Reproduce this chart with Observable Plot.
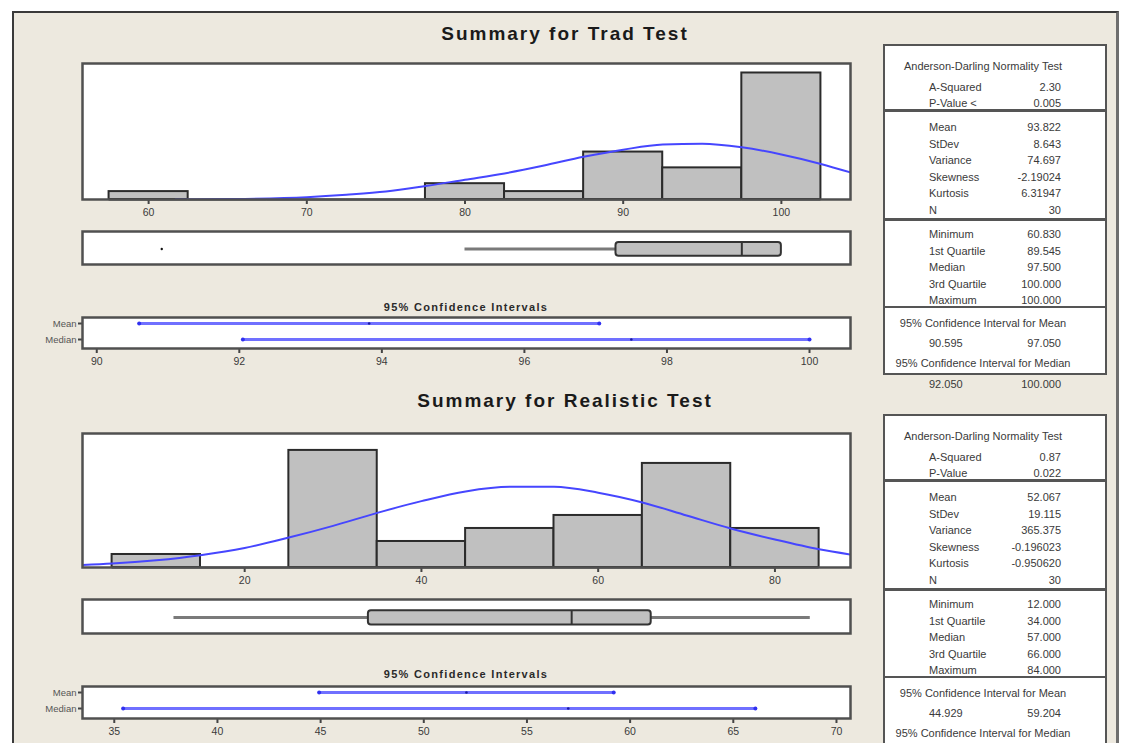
<!DOCTYPE html>
<html>
<head>
<meta charset="utf-8">
<script src="https://cdn.jsdelivr.net/npm/d3@7"></script>
<script src="https://cdn.jsdelivr.net/npm/@observablehq/plot@0.6"></script>
<style>
  html, body { margin: 0; padding: 0; background: #ffffff; }
  #root { position: relative; width: 1122px; height: 743px; overflow: hidden; background: #ffffff;
          font-family: "Liberation Sans", Arial, sans-serif; }
  #bg { position: absolute; left: 12px; top: 11px; width: 1107px; height: 800px; box-sizing: border-box;
        background: #EDE9DF; border-left: 2px solid #3a3a3a; border-top: 2px solid #3a3a3a; border-right: 3px solid #6e6e6e; }
  .t { position: absolute; white-space: nowrap; line-height: 1; }
  .title { font-weight: bold; font-size: 19px; letter-spacing: 2px; color: #1a1a1a; }
  .cil { font-weight: bold; font-size: 11px; letter-spacing: 1.3px; color: #2a2a2a; }
  .st { font-size: 11px; color: #3a3a3a; }
  .panel { position: absolute; box-sizing: border-box; background: #ffffff; border: 2.5px solid #555555; }
  .div { position: absolute; height: 2.5px; background: #555555; }
  svg { overflow: visible; }
</style>
</head>
<body>
<div id="root"><div id="bg"></div></div>
<script>
// ---------------- DATA ----------------
// Trad Test
const tradBinEdges = [57.5, 62.5, 67.5, 72.5, 77.5, 82.5, 87.5, 92.5, 97.5, 102.5];
const tradCounts   = [1, 0, 0, 0, 2, 1, 6, 4, 16];
const tradCurveX   = [61.7, 65, 70, 72.5, 75, 77.5, 80, 82.5, 85, 87.5, 90, 92.5, 95, 97.5, 100, 102.5, 104.4];
const tradCurveY   = [0.0, 0.05, 0.3, 0.6, 1.0, 1.7, 2.5, 3.3, 4.3, 5.4, 6.3, 6.95, 7.05, 6.6, 5.7, 4.5, 3.4];
const tradHistTicks = [60, 70, 80, 90, 100];
const tradBoxQ     = [89.545, 97.5, 100.0];      // Q1, median, Q3
const tradWhiskers = [80.0, 100.0];              // low, high whisker ends
const tradOutliers = [60.83];
const ciStats      = ["Mean", "Median"];
const tradCiLo     = [90.595, 92.05];
const tradCiHi     = [97.05, 100.0];
const tradCiEst    = [93.822, 97.5];
const tradCiTicks  = [90, 92, 94, 96, 98, 100];

// Realistic Test
const realBinEdges = [5, 15, 25, 35, 45, 55, 65, 75, 85];
const realCounts   = [1, 0, 9, 2, 3, 4, 8, 3];
const realCurveX   = [1.65, 5, 10, 15, 20, 25, 30, 35, 40, 45, 50, 55, 60, 65, 70, 75, 80, 85, 88.55];
const realCurveY   = [0.19, 0.3, 0.56, 0.95, 1.5, 2.3, 3.2, 4.2, 5.1, 5.85, 6.2, 6.2, 5.75, 5.0, 4.0, 3.0, 2.15, 1.4, 1.0];
const realHistTicks = [20, 40, 60, 80];
const realBoxQ     = [34.0, 57.0, 66.0];
const realWhiskers = [12.0, 84.0];
const realOutliers = [];
const realCiLo     = [44.929, 35.43];
const realCiHi     = [59.204, 66.07];
const realCiEst    = [52.067, 57.0];
const realCiTicks  = [35, 40, 45, 50, 55, 60, 65, 70];

// Summary table texts
const adTitle     = "Anderson-Darling Normality Test";
const tradAdLabels = ["A-Squared", "P-Value <"];
const realAdLabels = ["A-Squared", "P-Value"];
const descLabels  = ["Mean", "StDev", "Variance", "Skewness", "Kurtosis", "N"];
const quartLabels = ["Minimum", "1st Quartile", "Median", "3rd Quartile", "Maximum"];
const ciMeanTitle = "95% Confidence Interval for Mean";
const ciMedTitle  = "95% Confidence Interval for Median";
const tradAd      = ["2.30", "0.005"];
const tradDesc    = ["93.822", "8.643", "74.697", "-2.19024", "6.31947", "30"];
const tradQuart   = ["60.830", "89.545", "97.500", "100.000", "100.000"];
const tradCiMeanTxt = ["90.595", "97.050"];
const tradCiMedTxt  = ["92.050", "100.000"];
const realAd      = ["0.87", "0.022"];
const realDesc    = ["52.067", "19.115", "365.375", "-0.196023", "-0.950620", "30"];
const realQuart   = ["12.000", "34.000", "57.000", "66.000", "84.000"];
const realCiMeanTxt = ["44.929", "59.204"];

// ---------------- DRAWING ----------------
const FONT = '"Liberation Sans", Arial, sans-serif';
const root = document.getElementById("root");
const PANEL_L = 82, PANEL_R = 850, PW = PANEL_R - PANEL_L;

function put(node, left, top) {
  node.style.position = "absolute";
  node.style.left = left + "px";
  node.style.top = top + "px";
  root.appendChild(node);
  return node;
}
function text(str, x, cy, cls, anchor = "start") {
  const d = document.createElement("div");
  d.className = "t " + cls;
  d.textContent = str;
  const tx = anchor === "middle" ? "-50%" : anchor === "end" ? "-100%" : "0";
  d.style.left = x + "px";
  d.style.top = cy + "px";
  d.style.transform = `translate(${tx}, -50%)`;
  root.appendChild(d);
  return d;
}
const baseStyle = {background: "transparent", fontFamily: FONT, fontSize: "10.5px", color: "#3a3a3a", overflow: "visible"};

function histChart({edges, counts, curveX, curveY, xDomain, yMax, ticks, top, h}) {
  const ml = 10, mr = 10, mt = 4, mb = 26;
  const bins = counts.map((c, i) => ({x1: edges[i], x2: edges[i + 1], count: c}));
  const curve = curveX.map((x, i) => ({x, y: curveY[i]}));
  const chart = Plot.plot({
    width: PW + ml + mr, height: h + mt + mb,
    marginLeft: ml, marginRight: mr, marginTop: mt, marginBottom: mb,
    style: baseStyle,
    x: {domain: xDomain, label: null},
    y: {domain: [0, yMax], axis: null, label: null},
    marks: [
      Plot.frame({fill: "white", stroke: "none"}),
      Plot.rect(bins, {x1: "x1", x2: "x2", y1: 0, y2: "count", fill: "#C0C0C0", stroke: "#2b2b2b", strokeWidth: 2}),
      Plot.ruleY(bins, {x1: "x1", x2: "x2", y: 0, stroke: "#2b2b2b", strokeWidth: 2}),
      Plot.line(curve, {x: "x", y: "y", stroke: "#4646ff", strokeWidth: 2, curve: "monotone-x", clip: true}),
      Plot.axisX({ticks, tickSize: 5, tickPadding: 4, strokeWidth: 2, stroke: "#444", fill: "#3a3a3a", fontSize: 10.5, label: null}),
      Plot.frame({stroke: "#505050", strokeWidth: 2.5})
    ]
  });
  put(chart, PANEL_L - ml, top - mt);
}

function boxChart({q, whiskers, outliers, xDomain, top, h}) {
  const ml = 10, mr = 10, mt = 3, mb = 3;
  const box = [{q1: q[0], med: q[1], q3: q[2]}];
  const segs = [{x1: whiskers[0], x2: q[0]}, {x1: q[2], x2: whiskers[1]}].filter(s => s.x2 > s.x1);
  const chart = Plot.plot({
    width: PW + ml + mr, height: h + mt + mb,
    marginLeft: ml, marginRight: mr, marginTop: mt, marginBottom: mb,
    style: baseStyle,
    x: {domain: xDomain, axis: null, label: null},
    y: {domain: [0, 1], axis: null},
    marks: [
      Plot.frame({fill: "white", stroke: "none"}),
      Plot.ruleY(segs, {x1: "x1", x2: "x2", y: 0.47, stroke: "#7a7a7a", strokeWidth: 3}),
      Plot.rect(box, {x1: "q1", x2: "q3", y1: 0.25, y2: 0.67, fill: "#C0C0C0", stroke: "#333", strokeWidth: 2, rx: 3}),
      Plot.ruleX(box, {x: "med", y1: 0.25, y2: 0.67, stroke: "#333", strokeWidth: 2}),
      Plot.dot(outliers, {x: d => d, y: 0.47, r: 1.2, fill: "#111", stroke: "none"}),
      Plot.frame({stroke: "#505050", strokeWidth: 2.5})
    ]
  });
  put(chart, PANEL_L - ml, top - mt);
}

function ciChart({lo, hi, est, xDomain, ticks, top, h}) {
  const ml = 64, mr = 10, mt = 4, mb = 26;
  const rows = ciStats.map((s, i) => ({stat: s, lo: lo[i], hi: hi[i], est: est[i]}));
  const chart = Plot.plot({
    width: PW + ml + mr, height: h + mt + mb,
    marginLeft: ml, marginRight: mr, marginTop: mt, marginBottom: mb,
    style: baseStyle,
    x: {domain: xDomain, label: null},
    y: {type: "point", domain: ciStats, range: [mt + 6, mt + 22], padding: 0, label: null},
    marks: [
      Plot.frame({fill: "white", stroke: "none"}),
      Plot.ruleY(rows, {y: "stat", x1: "lo", x2: "hi", stroke: "#7070ff", strokeWidth: 3}),
      Plot.dot(rows, {x: "lo", y: "stat", r: 2, fill: "#3030f0", stroke: "none"}),
      Plot.dot(rows, {x: "hi", y: "stat", r: 2, fill: "#3030f0", stroke: "none"}),
      Plot.dot(rows, {x: "est", y: "stat", r: 1.3, fill: "#1a1aa0", stroke: "none"}),
      Plot.axisY({tickSize: 4, tickPadding: 2, strokeWidth: 2, stroke: "#444", fill: "#555", fontSize: 9.5, label: null}),
      Plot.axisX({ticks, tickSize: 5, tickPadding: 4, strokeWidth: 2, stroke: "#444", fill: "#3a3a3a", fontSize: 10.5, label: null}),
      Plot.frame({stroke: "#505050", strokeWidth: 2.5})
    ]
  });
  put(chart, PANEL_L - ml, top - mt);
}

function statsPanel({top, adLabels, ad, desc, quart, ciMean, ciMed}) {
  const L = 883, R = 1107, LX = 929, VX = 1061, CX = 983;
  const p = document.createElement("div");
  p.className = "panel";
  p.style.left = L + "px"; p.style.top = top + "px";
  p.style.width = (R - L) + "px"; p.style.height = "331px";
  root.appendChild(p);
  [66.5, 175.5, 263].forEach(o => {
    const d = document.createElement("div");
    d.className = "div";
    d.style.left = L + "px"; d.style.width = (R - L) + "px";
    d.style.top = (top + o - 1.25) + "px";
    root.appendChild(d);
  });
  text(adTitle, CX, top + 21.5, "st", "middle");
  adLabels.forEach((l, i) => { text(l, LX, top + 42.5 + i * 16, "st"); text(ad[i], VX, top + 42.5 + i * 16, "st", "end"); });
  descLabels.forEach((l, i) => { text(l, LX, top + 83.2 + i * 16.5, "st"); text(desc[i], VX, top + 83.2 + i * 16.5, "st", "end"); });
  quartLabels.forEach((l, i) => { text(l, LX, top + 190.3 + i * 16.5, "st"); text(quart[i], VX, top + 190.3 + i * 16.5, "st", "end"); });
  text(ciMeanTitle, CX, top + 279, "st", "middle");
  text(ciMean[0], LX, top + 298.5, "st"); text(ciMean[1], VX, top + 298.5, "st", "end");
  text(ciMedTitle, CX, top + 318.5, "st", "middle");
  if (ciMed) { text(ciMed[0], LX, top + 340, "st"); text(ciMed[1], VX, top + 340, "st", "end"); }
}

// ---- Trad Test section ----
text("Summary for Trad Test", 565, 33, "title", "middle");
histChart({edges: tradBinEdges, counts: tradCounts, curveX: tradCurveX, curveY: tradCurveY,
           xDomain: [55.82, 104.37], yMax: 17.2, ticks: tradHistTicks, top: 63, h: 136});
boxChart({q: tradBoxQ, whiskers: tradWhiskers, outliers: tradOutliers, xDomain: [55.82, 104.37], top: 231, h: 33});
text("95% Confidence Intervals", 466, 307, "cil", "middle");
ciChart({lo: tradCiLo, hi: tradCiHi, est: tradCiEst, xDomain: [89.80, 100.575], ticks: tradCiTicks, top: 317, h: 31});
statsPanel({top: 44, adLabels: tradAdLabels, ad: tradAd, desc: tradDesc, quart: tradQuart, ciMean: tradCiMeanTxt, ciMed: tradCiMedTxt});

// ---- Realistic Test section ----
text("Summary for Realistic Test", 565, 400, "title", "middle");
histChart({edges: realBinEdges, counts: realCounts, curveX: realCurveX, curveY: realCurveY,
           xDomain: [1.65, 88.55], yMax: 10.3, ticks: realHistTicks, top: 433, h: 134});
boxChart({q: realBoxQ, whiskers: realWhiskers, outliers: realOutliers, xDomain: [1.65, 88.55], top: 599, h: 34});
text("95% Confidence Intervals", 466, 674, "cil", "middle");
ciChart({lo: realCiLo, hi: realCiHi, est: realCiEst, xDomain: [33.46, 70.68], ticks: realCiTicks, top: 686, h: 32});
statsPanel({top: 414, adLabels: realAdLabels, ad: realAd, desc: realDesc, quart: realQuart, ciMean: realCiMeanTxt, ciMed: null});
</script>
</body>
</html>
